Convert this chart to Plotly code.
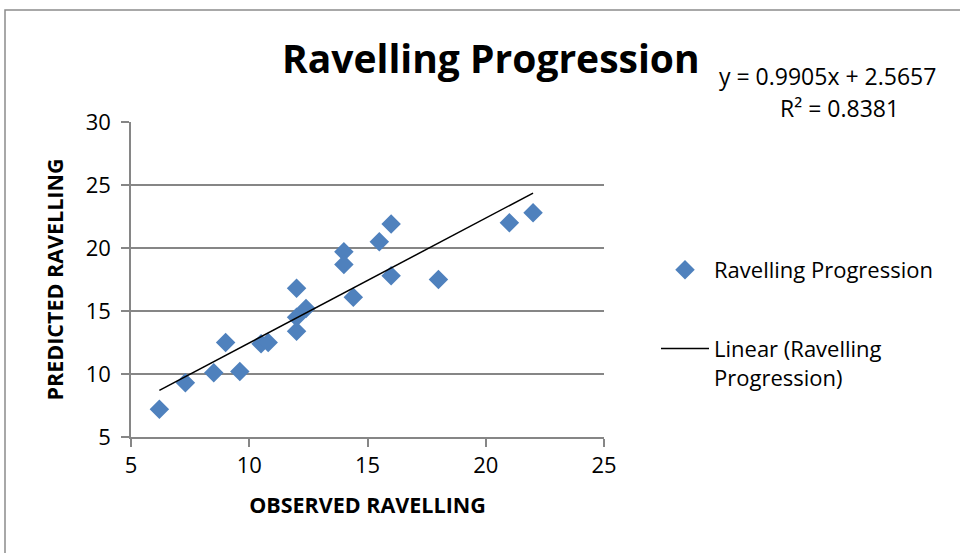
import plotly.graph_objects as go

# Observed vs predicted ravelling values
observed = [6.2, 7.3, 8.5, 9.0, 9.6, 10.5, 10.8, 12.0, 12.0, 12.4, 12.0,
            14.0, 14.0, 14.4, 15.5, 16.0, 16.0, 18.0, 21.0, 22.0]
predicted = [7.2, 9.3, 10.1, 12.5, 10.2, 12.4, 12.5, 13.4, 14.5, 15.2, 16.8,
             19.7, 18.7, 16.1, 20.5, 21.9, 17.8, 17.5, 22.0, 22.8]

# Linear trendline coefficients
slope = 0.9905
intercept = 2.5657
r_squared = 0.8381

x_ticks = [5, 10, 15, 20, 25]
y_ticks = [5, 10, 15, 20, 25, 30]

FONT = "'Open Sans', sans-serif"
BLUE = "#4F81BD"
GRID = "#868686"

W, H = 960, 553
L, R, T, B = 131, 356, 122, 116
pw, ph = W - L - R, H - T - B


def px_x(p):
    return (p - L) / pw


def px_y(p):
    return (H - B - p) / ph


trend_x = [min(observed), max(observed)]
trend_y = [slope * v + intercept for v in trend_x]

fig = go.Figure()
fig.add_trace(go.Scatter(
    x=observed, y=predicted, mode="markers", name="Ravelling Progression",
    legendgroup="a",
    marker=dict(symbol="diamond", size=15, color=BLUE, line=dict(width=0)),
))
fig.add_trace(go.Scatter(
    x=trend_x, y=trend_y, mode="lines", name="Linear (Ravelling<br>Progression)",
    legendgroup="b",
    line=dict(color="black", width=1.5),
))

fig.update_layout(
    width=W, height=H,
    margin=dict(l=L, r=R, t=T, b=B),
    paper_bgcolor="white", plot_bgcolor="white",
    font=dict(family=FONT, size=22, color="black"),
    showlegend=True,
    legend=dict(x=px_x(656), y=px_y(249), xanchor="left", yanchor="top",
                font=dict(size=22), tracegroupgap=47, itemwidth=48,
                valign="top", bgcolor="rgba(0,0,0,0)"),
    xaxis=dict(range=[5, 25], tickvals=x_ticks, showgrid=False, zeroline=False,
               showline=True, linecolor=GRID, linewidth=1.5,
               ticks="outside", ticklen=8, tickcolor=GRID, tickwidth=1.5,
               tickfont=dict(size=22), fixedrange=True,
               title=dict(text="<b>OBSERVED RAVELLING</b>", font=dict(size=21.5),
                          standoff=20)),
    yaxis=dict(range=[5, 30], tickvals=y_ticks, showgrid=True, gridcolor=GRID,
               gridwidth=1.5, zeroline=False,
               showline=True, linecolor=GRID, linewidth=1.5,
               ticks="outside", ticklen=8, tickcolor=GRID, tickwidth=1.5,
               tickfont=dict(size=22), ticklabelstandoff=6, fixedrange=True,
               title=dict(text="<b>PREDICTED RAVELLING</b>", font=dict(size=21.5),
                          standoff=16)),
    shapes=[dict(type="rect", xref="paper", yref="paper",
                 x0=px_x(5), x1=px_x(975), y0=px_y(570), y1=px_y(10),
                 line=dict(color="#8C8C8C", width=1.5), layer="below")],
    annotations=[
        dict(text="<b>Ravelling Progression</b>", xref="paper", yref="paper",
             x=px_x(491), y=px_y(57), xanchor="center", yanchor="middle",
             showarrow=False, font=dict(size=39)),
        dict(text=f"y = {slope}x + {intercept}", xref="paper", yref="paper",
             x=px_x(827), y=px_y(76), xanchor="center", yanchor="middle",
             showarrow=False, font=dict(size=23)),
        dict(text=f"R² = {r_squared}", xref="paper", yref="paper",
             x=px_x(839), y=px_y(108), xanchor="center", yanchor="middle",
             showarrow=False, font=dict(size=23)),
    ],
)

fig.write_html("out.html")
